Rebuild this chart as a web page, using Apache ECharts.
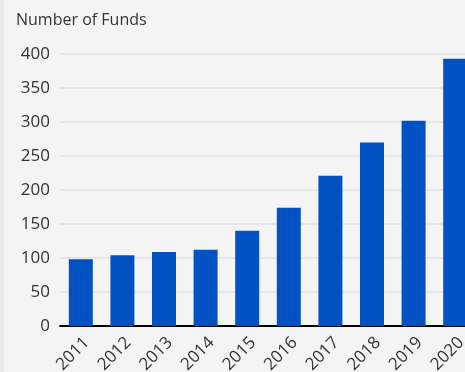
<!DOCTYPE html>
<html><head><meta charset="utf-8">
<script src="https://cdn.jsdelivr.net/npm/echarts@6/dist/echarts.min.js"></script>
<style>html,body{margin:0;padding:0;background:#f4f4f4;overflow:hidden;}#c{width:476px;height:372px;}</style>
</head><body><div id="c"></div>
<script>
const categories = ['2011','2012','2013','2014','2015','2016','2017','2018','2019','2020'];
const funds = [98, 104, 109, 112, 140, 174, 221, 270, 302, 393];
const yTicks = [0, 50, 100, 150, 200, 250, 300, 350, 400];
const title = 'Number of Funds';
const FONT = '"Open Sans", "Noto Sans", sans-serif';
const chart = echarts.init(document.getElementById('c'), null, {renderer:'canvas'});
chart.setOption({
  backgroundColor: '#f4f4f4',
  animation: false,
  graphic: [
    {type:'rect', left:0, top:0, shape:{x:0,y:0,width:4,height:372}, style:{fill:'#ebebeb'}, z:-1},
    {type:'text', left:16, top:12, style:{text:title, fontSize:16, fontFamily:FONT, fill:'#333'}}
  ],
  grid: {left:60, right:0, top:54, bottom:46, containLabel:false, outerBoundsMode:'none'},
  xAxis: {
    type:'category', data:categories,
    axisLine:{show:true, lineStyle:{color:'#000', width:2}},
    axisTick:{show:false},
    axisLabel:{rotate:45, margin:8, verticalAlign:'top', fontSize:17, fontFamily:FONT, color:'#333', interval:0}
  },
  yAxis: {
    type:'value', min:yTicks[0], max:yTicks[yTicks.length-1], interval:50,
    axisLine:{show:false}, axisTick:{show:false},
    axisLabel:{margin:10, fontSize:17, fontFamily:FONT, color:'#333'},
    splitLine:{lineStyle:{color:'#e2e2e2', width:1.5}}
  },
  series: [{
    type:'bar', data:funds, barWidth:24,
    itemStyle:{color:'#0052c2'}
  }]
});
</script></body></html>
